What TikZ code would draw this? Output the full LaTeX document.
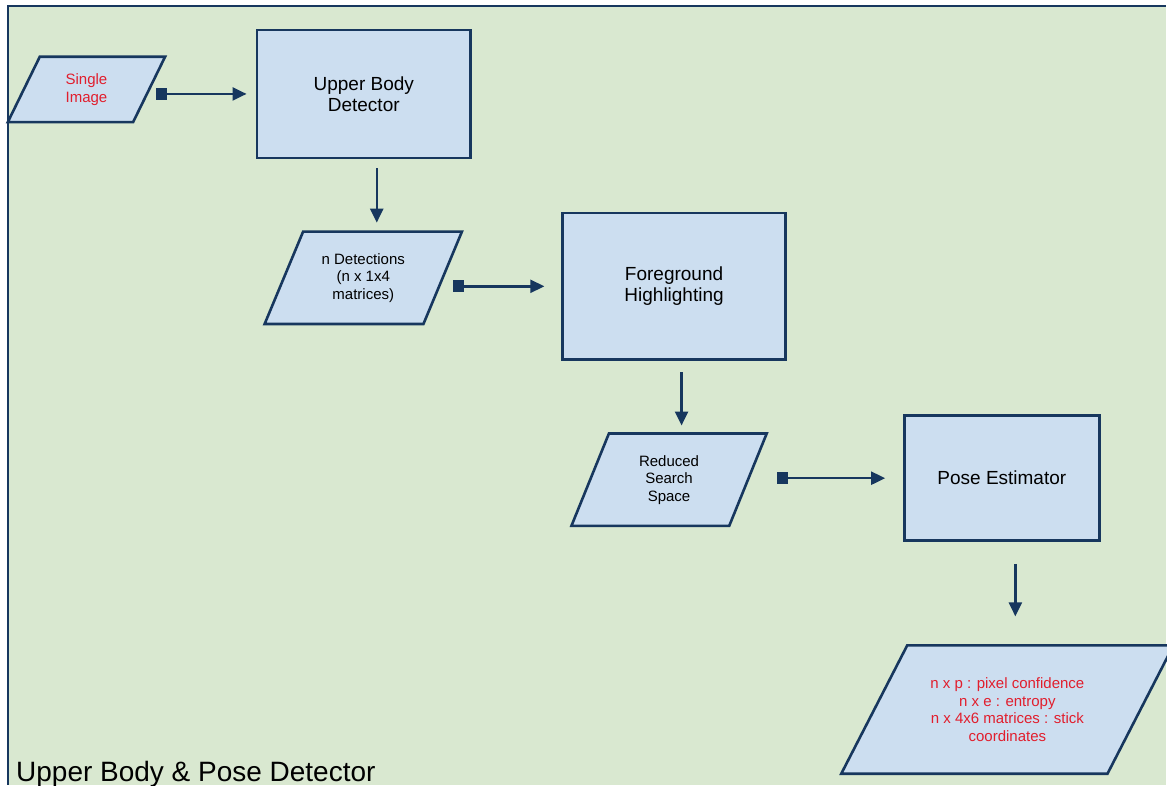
\documentclass[tikz,border=0pt]{standalone}
\usepackage{fontspec}
\setmainfont{Liberation Sans}
\usetikzlibrary{arrows.meta}
\definecolor{framenavy}{RGB}{23,55,94}
\definecolor{boxblue}{RGB}{204,222,240}
\definecolor{paperGreen}{RGB}{217,232,208}
\definecolor{labelred}{RGB}{225,30,45}

\pgfdeclarelayer{page}
\pgfdeclarelayer{shapes}
\pgfsetlayers{page,shapes,main}

\tikzset{
  procbox/.style={draw=framenavy, fill=boxblue, line width=2.6pt, align=center,
    font=\fontsize{19}{21}\selectfont},
  databox/.style={align=center, inner sep=0, font=\fontsize{15}{17.5}\selectfont},
  dataframe/.style={draw=framenavy, fill=boxblue, line width=2.6pt, line join=miter},
  flow/.style={framenavy, line width=2.4pt,
    {Square[length=11pt,width=12pt]}-{Triangle[length=14pt,width=13pt]}},
  dropflow/.style={framenavy, line width=2.4pt, -{Triangle[length=14pt,width=13pt]}},
}
% parallelogram round a data node: #1 node name, #2 horizontal slant
\newcommand\slantframe[2]{%
  \draw[dataframe] ([xshift=#2/2]#1.north west) -- ([xshift=#2/2]#1.north east)
    -- ([xshift=-#2/2]#1.south east) -- ([xshift=-#2/2]#1.south west) -- cycle;}

\begin{document}
\begin{tikzpicture}[x=1pt, y=-1pt]
  % page and frame
  \begin{pgfonlayer}{page}
    \fill[white] (0,0) rectangle (1167,785);
    \fill[paperGreen] (8,6) rectangle (1167,785);
    \draw[framenavy, line width=1.5pt] (8,785) -- (8,6) -- (1167,6);
  \end{pgfonlayer}
  \useasboundingbox (0,0) rectangle (1167,785);

  % process boxes
  \node[procbox, minimum width=214, minimum height=128] (ubd) at (364,94) {Upper Body\\Detector};
  \node[procbox, minimum width=223, minimum height=147] (fg) at (674.5,286.5) {Foreground\\Highlighting};
  \node[procbox, minimum width=195, minimum height=125] (pose) at (1002.5,478.5) {Pose Estimator};

  % data
  \node[databox, minimum width=125, minimum height=65, text=labelred] (img) at (86.5,89.5) {Single\\Image};
  \node[databox, minimum width=158.5, minimum height=92] (ndet) at (363.5,278) {n Detections\\(n x 1x4\\matrices)};
  \node[databox, minimum width=157.5, minimum height=92] (rss) at (669.5,480) {Reduced\\Search\\Space};
  \node[databox, minimum width=266, minimum height=128, text=labelred] (out) at (1008,710)
    {n x p : pixel confidence\\n x e : entropy\\n x 4x6 matrices : stick\\coordinates};
  \begin{pgfonlayer}{shapes}
    \slantframe{img}{32}
    \slantframe{ndet}{38.5}
    \slantframe{rss}{37.5}
    \slantframe{out}{66}
  \end{pgfonlayer}

  % connectors
  \draw[flow, shorten <=7, shorten >=9] (img.east |- ubd.west) -- (ubd.west);
  \draw[dropflow, shorten <=9, shorten >=9] ([xshift=13]ubd.south) -- ([xshift=13]ubd.south |- ndet.north);
  \draw[flow, shorten <=10, shorten >=17] (ndet.east |- fg.west) -- (fg.west);
  \draw[dropflow, shorten <=11, shorten >=8] ([xshift=7.5]fg.south) -- ([xshift=7.5]fg.south |- rss.north);
  \draw[flow, shorten <=29, shorten >=18] (rss.east |- pose.west) -- (pose.west);
  \draw[dropflow, shorten <=22, shorten >=29] ([xshift=13.5]pose.south) -- ([xshift=13.5]pose.south |- out.north);

  \node[anchor=base west, inner sep=0, font=\fontsize{28}{32}\selectfont] (title) at (16,782) {Upper Body \& Pose Detector};
\end{tikzpicture}
\end{document}
